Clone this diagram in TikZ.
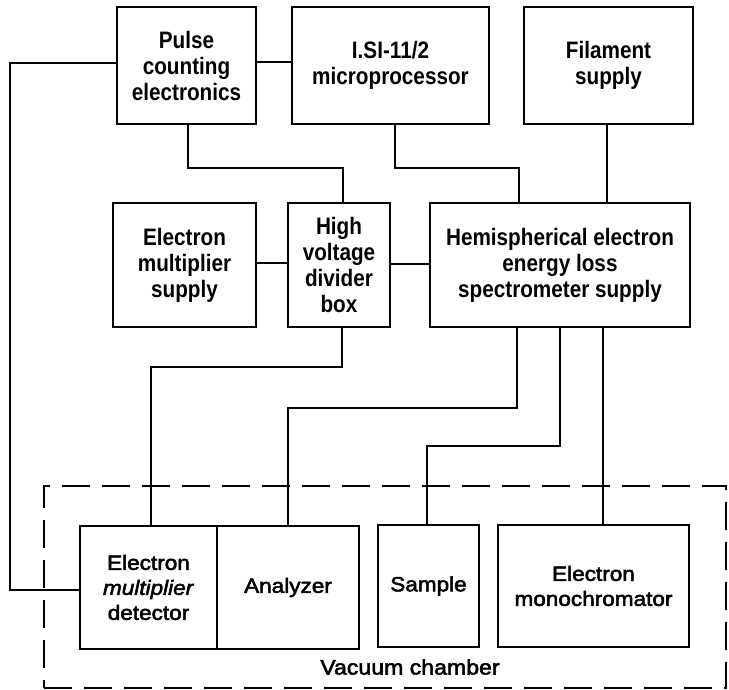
\documentclass[tikz,border=0pt]{standalone}
\usepackage{fontspec}
\setmainfont{Liberation Sans}
\newfontfamily\topfont{Liberation Sans}[FakeStretch=0.87]
\newfontfamily\lowfont{Liberation Sans}[FakeStretch=1.1,FakeBold=2.5]
\begin{document}
\begin{tikzpicture}[x=1pt,y=-1pt,
  blk/.style={draw,line width=2.8pt,rectangle,inner sep=0pt,align=center,
    font=\topfont\bfseries\fontsize{23.8}{26}\selectfont},
  lowblk/.style={blk,font=\lowfont\fontsize{20.5}{25}\selectfont},
  wire/.style={line width=1.4pt},
  chamber/.style={draw,line width=1.8pt,dash pattern=on 28pt off 12pt,rectangle,inner sep=0pt},
  lbl/.style={font=\lowfont\fontsize{21}{25}\selectfont,inner sep=0pt}]
\useasboundingbox (0,0) rectangle (729,690);
% vacuum chamber
\node[chamber,minimum width=682pt,minimum height=202pt] (vac) at (385,587) {};
\node[lbl] (vaclbl) at (410,667) {Vacuum chamber};
% top row
\node[blk,minimum width=139pt,minimum height=117pt] (pulse) at (186.5,65.5) {Pulse\\counting\\electronics};
\node[blk,minimum width=197pt,minimum height=117pt] (lsi) at (390.5,65.5) {I.SI-11/2\\microprocessor};
\node[blk,minimum width=169pt,minimum height=117pt] (fil) at (608.5,65.5) {Filament\\supply};
% middle row
\node[blk,minimum width=143pt,minimum height=124pt] (ems) at (184.5,265) {Electron\\multiplier\\supply};
\node[blk,minimum width=102pt,minimum height=124pt] (hv) at (339,265) {High\\voltage\\divider\\box};
\node[blk,minimum width=260pt,minimum height=124pt] (hem) at (560,265) {Hemispherical electron\\energy loss\\spectrometer supply};
% bottom row
\node[lowblk,minimum width=137pt,minimum height=123pt] (det) at (148.5,587.5) {Electron\\\textit{multiplier}\\detector};
\node[lowblk,minimum width=142pt,minimum height=123pt] (ana) at (288,587.5) {Analyzer};
\node[lowblk,minimum width=101pt,minimum height=122pt] (sam) at (428.5,586) {Sample};
\node[lowblk,minimum width=191pt,minimum height=122pt] (mono) at (593.5,586) {Electron\\monochromator};
% connectors
\draw[wire] (pulse.west |- 0,63) -| (10,590) -- (det.west |- 0,590);
\draw[wire] (pulse.east |- 0,62) -- (lsi.west |- 0,62);
\draw[wire] (188,0 |- pulse.south) |- (343,168) -- (343,0 |- hv.north);
\draw[wire] (395,0 |- lsi.south) |- (519,168) -- (519,0 |- hem.north);
\draw[wire] (607,0 |- fil.south) -- (607,0 |- hem.north);
\draw[wire] (ems.east |- 0,263) -- (hv.west |- 0,263);
\draw[wire] (hv.east |- 0,264) -- (hem.west |- 0,264);
\draw[wire] (342,0 |- hv.south) |- (151,367) -- (151,0 |- det.north);
\draw[wire] (517,0 |- hem.south) |- (288,408) -- (ana.north);
\draw[wire] (560,0 |- hem.south) |- (427,446) -- (427,0 |- sam.north);
\draw[wire] (603,0 |- hem.south) -- (603,0 |- mono.north);
\end{tikzpicture}
\end{document}
